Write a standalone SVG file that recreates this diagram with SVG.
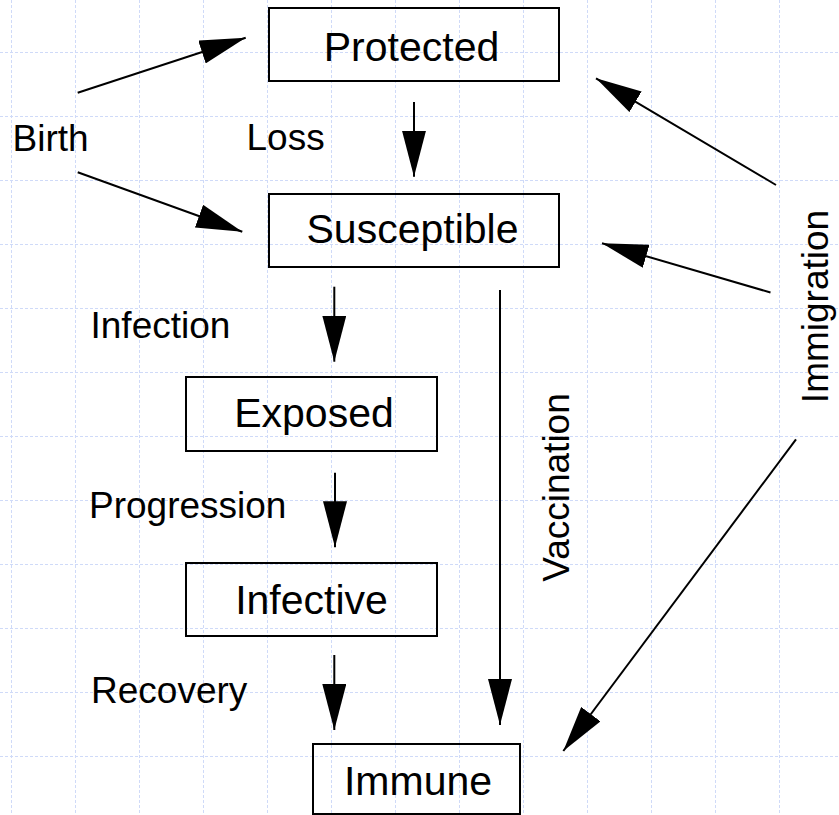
<svg xmlns="http://www.w3.org/2000/svg" width="839" height="815" viewBox="0 0 839 815">
<style>
.grid line{stroke:#cfdaf8;stroke-width:1;stroke-dasharray:3,2}
.box{fill:none;stroke:#000;stroke-width:2}
.nt{font-family:"Liberation Sans",Arial,sans-serif;font-size:41px;fill:#000;text-anchor:middle}
.lb{font-family:"Liberation Sans",Arial,sans-serif;font-size:37px;fill:#000}
.conn line{stroke:#000;stroke-width:2;marker-end:url(#ah)}
</style>
<defs>
<marker id="ah" markerUnits="userSpaceOnUse" markerWidth="46" markerHeight="24" refX="46" refY="12" orient="auto" viewBox="0 0 46 24">
<path d="M0,0 L46,12 L0,24 Z" fill="#000"/>
</marker>
</defs>
<rect width="839" height="815" fill="#fff"/>
<g class="grid">
<line x1="11.5" y1="0" x2="11.5" y2="815"/>
<line x1="75.5" y1="0" x2="75.5" y2="815"/>
<line x1="139.5" y1="0" x2="139.5" y2="815"/>
<line x1="203.5" y1="0" x2="203.5" y2="815"/>
<line x1="267.5" y1="0" x2="267.5" y2="815"/>
<line x1="331.5" y1="0" x2="331.5" y2="815"/>
<line x1="395.5" y1="0" x2="395.5" y2="815"/>
<line x1="459.5" y1="0" x2="459.5" y2="815"/>
<line x1="523.5" y1="0" x2="523.5" y2="815"/>
<line x1="587.5" y1="0" x2="587.5" y2="815"/>
<line x1="651.5" y1="0" x2="651.5" y2="815"/>
<line x1="715.5" y1="0" x2="715.5" y2="815"/>
<line x1="779.5" y1="0" x2="779.5" y2="815"/>
<line x1="0" y1="52.5" x2="839" y2="52.5"/>
<line x1="0" y1="116.5" x2="839" y2="116.5"/>
<line x1="0" y1="180.5" x2="839" y2="180.5"/>
<line x1="0" y1="244.5" x2="839" y2="244.5"/>
<line x1="0" y1="308.5" x2="839" y2="308.5"/>
<line x1="0" y1="372.5" x2="839" y2="372.5"/>
<line x1="0" y1="436.5" x2="839" y2="436.5"/>
<line x1="0" y1="500.5" x2="839" y2="500.5"/>
<line x1="0" y1="564.5" x2="839" y2="564.5"/>
<line x1="0" y1="628.5" x2="839" y2="628.5"/>
<line x1="0" y1="692.5" x2="839" y2="692.5"/>
<line x1="0" y1="756.5" x2="839" y2="756.5"/>
</g>
<g id="protected"><rect class="box" x="269" y="8" width="290" height="73"/><text class="nt" x="411.5" y="61">Protected</text></g>
<g id="susceptible"><rect class="box" x="269" y="194" width="290" height="73"/><text class="nt" x="412.5" y="243">Susceptible</text></g>
<g id="exposed"><rect class="box" x="186" y="377" width="251" height="74"/><text class="nt" x="314" y="427">Exposed</text></g>
<g id="infective"><rect class="box" x="186" y="563" width="251" height="73"/><text class="nt" x="311.5" y="614">Infective</text></g>
<g id="immune"><rect class="box" x="313" y="744" width="207" height="70"/><text class="nt" x="418" y="795">Immune</text></g>
<g id="labels">
<text class="lb" x="12.5" y="150.5">Birth</text>
<text class="lb" x="246.5" y="150">Loss</text>
<text class="lb" x="90.5" y="338">Infection</text>
<text class="lb" x="89" y="518">Progression</text>
<text class="lb" x="91" y="703">Recovery</text>
<text class="lb" text-anchor="middle" transform="translate(569,487.5) rotate(-90)">Vaccination</text>
<text class="lb" text-anchor="middle" transform="translate(828,306.5) rotate(-90)">Immigration</text>
</g>
<g id="connectors" class="conn">
<line x1="77.7" y1="92.7" x2="245.7" y2="37.7"/>
<line x1="77.7" y1="172.3" x2="242.3" y2="231.7"/>
<line x1="414" y1="102" x2="414" y2="176.7"/>
<line x1="334.3" y1="286.7" x2="334.3" y2="361.7"/>
<line x1="335" y1="472.7" x2="335" y2="547.3"/>
<line x1="334.3" y1="655" x2="334.3" y2="730"/>
<line x1="500" y1="290" x2="500" y2="725"/>
<line x1="776" y1="185" x2="596" y2="78.3"/>
<line x1="770.5" y1="292.5" x2="602" y2="243.3"/>
<line x1="796" y1="439.3" x2="563.3" y2="751"/>
</g>
</svg>
